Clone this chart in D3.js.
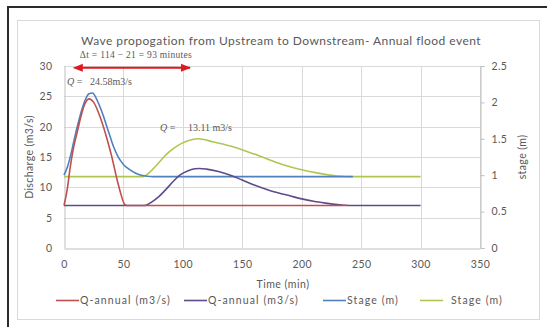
<!DOCTYPE html>
<html>
<head>
<meta charset="utf-8">
<script src="https://cdn.jsdelivr.net/npm/d3@7"></script>
<style>
  html, body { margin: 0; padding: 0; background: #fff; }
  svg { display: block; }
  text { font-family: Lato, "Open Sans", sans-serif; fill: #595959; }
</style>
</head>
<body>
<svg id="chart" width="547" height="327"></svg>
<script>
// Upstream discharge (m3/s) against time (min)
const qUpT = [0, 3, 5, 8, 11, 14, 17, 21, 25, 30, 35, 40, 45, 48, 51, 53, 238];
const qUpV = [7, 10, 13, 16.5, 19, 21.5, 23.5, 24.58, 24.0, 21.8, 18.8, 15.2, 11.0, 8.8, 7.2, 7, 7];

// Downstream discharge (m3/s)
const qDnT = [0, 68, 74, 80, 86, 92, 98, 104, 110, 114, 120, 130, 140, 150, 160, 170, 180, 190, 200, 210, 220, 230, 240, 300];
const qDnV = [7, 7, 7.6, 8.5, 9.7, 11.0, 12.1, 12.7, 13.05, 13.11, 13.0, 12.6, 12.0, 11.2, 10.4, 9.7, 9.1, 8.6, 8.1, 7.7, 7.4, 7.15, 7.0, 7.0];

// Upstream stage (m)
const stUpT = [0, 3, 6, 9, 12, 15, 18, 21, 24, 27, 30, 33, 36, 39, 42, 45, 48, 51, 55, 60, 65, 70, 75, 243];
const stUpV = [1.0, 1.12, 1.3, 1.52, 1.72, 1.9, 2.04, 2.12, 2.13, 2.06, 1.95, 1.82, 1.67, 1.52, 1.38, 1.27, 1.19, 1.13, 1.08, 1.03, 1.0, 0.985, 0.98, 0.98];

// Downstream stage (m)
const stDnT = [0, 66, 72, 78, 84, 90, 96, 102, 108, 113, 125, 140, 155, 170, 185, 200, 215, 230, 245, 300];
const stDnV = [0.98, 0.98, 1.04, 1.14, 1.25, 1.34, 1.41, 1.46, 1.49, 1.5, 1.46, 1.40, 1.32, 1.23, 1.14, 1.075, 1.025, 0.99, 0.98, 0.98];

const xTicks = [0, 50, 100, 150, 200, 250, 300, 350];
const yLeftTicks = [0, 5, 10, 15, 20, 25, 30];
const yRightTicks = [0, 0.5, 1, 1.5, 2, 2.5];

const seriesNames = ["Q-annual (m3/s)", "Q-annual (m3/s)", "Stage (m)", "Stage (m)"];
const seriesColors = ["#c0504d", "#5f4b8b", "#4f81bd", "#afc653"];

// Travel time annotation: peaks at 21 and 114 min
const peakUpT = 21, peakDnT = 114;
const arrowT = [15, 106];
const arrowQ = 29.7;

const svg = d3.select("#chart");

// outer frame
svg.append("line").attr("x1", 8).attr("x2", 547).attr("y1", 7).attr("y2", 7)
  .attr("stroke", "#2b2b2b").attr("stroke-width", 2);
svg.append("line").attr("x1", 8).attr("x2", 8).attr("y1", 6).attr("y2", 327)
  .attr("stroke", "#2b2b2b").attr("stroke-width", 2);
svg.append("rect").attr("x", 17.5).attr("y", 20.5).attr("width", 522).attr("height", 299)
  .attr("fill", "#fff").attr("stroke", "#d9d9d9");

const x = d3.scaleLinear().domain([0, 350]).range([64, 480]);
const yL = d3.scaleLinear().domain([0, 30]).range([248, 66]);
const yR = d3.scaleLinear().domain([0, 2.5]).range([248, 66]);

// gridlines
const grid = svg.append("g");
grid.selectAll(".h").data(yLeftTicks.slice(1)).join("line")
  .attr("x1", x(0)).attr("x2", x(350))
  .attr("y1", d => Math.round(yL(d)) + 0.5).attr("y2", d => Math.round(yL(d)) + 0.5)
  .attr("stroke", "#d9d9d9");
grid.selectAll(".v").data(xTicks.slice(1)).join("line")
  .attr("y1", yL(0)).attr("y2", yL(30))
  .attr("x1", d => Math.round(x(d)) + 0.5).attr("x2", d => Math.round(x(d)) + 0.5)
  .attr("stroke", "#d9d9d9");

// axes
const axL = svg.append("g").attr("transform", `translate(${Math.round(x(0)) + 0.5},0)`)
  .call(d3.axisLeft(yL).tickValues(yLeftTicks).tickSize(0).tickPadding(12));
const axB = svg.append("g").attr("transform", `translate(0,${Math.round(yL(0)) + 0.5})`)
  .call(d3.axisBottom(x).tickValues(xTicks).tickSize(0).tickPadding(12));
const axR = svg.append("g").attr("transform", `translate(${Math.round(x(350)) + 0.5},0)`)
  .call(d3.axisRight(yR).tickValues(yRightTicks).tickSize(4).tickPadding(7).tickFormat(d3.format("")));
[axL, axB, axR].forEach(a => {
  a.select(".domain").attr("stroke", "#bfbfbf");
  a.selectAll(".tick line").attr("stroke", "#bfbfbf");
  a.selectAll("text").style("font-size", "10.5px").attr("fill", "#595959")
    .style("font-family", "Lato, sans-serif").style("letter-spacing", "0.4px");
});

// series
const pair = (ts, vs) => ts.map((t, i) => [t, vs[i]]);
const lineL = d3.line().x(d => x(d[0])).y(d => yL(d[1])).curve(d3.curveMonotoneX);
const lineR = d3.line().x(d => x(d[0])).y(d => yR(d[1])).curve(d3.curveMonotoneX);

const plot = svg.append("g").attr("fill", "none").attr("stroke-width", 1.6).attr("stroke-linejoin", "round");
plot.append("path").attr("d", lineR(pair(stDnT, stDnV))).attr("stroke", seriesColors[3]);
plot.append("path").attr("d", lineR(pair(stUpT, stUpV))).attr("stroke", seriesColors[2]);
plot.append("path").attr("d", lineL(pair(qDnT, qDnV))).attr("stroke", seriesColors[1]);
plot.append("path").attr("d", lineL(pair(qUpT, qUpV))).attr("stroke", seriesColors[0]);

// title
svg.append("text").attr("x", 281).attr("y", 45).attr("text-anchor", "middle")
  .style("font-size", "12px").style("letter-spacing", "0.45px")
  .text("Wave propogation from Upstream to Downstream- Annual flood event");

// axis titles
svg.append("text").attr("transform", `translate(33,${(yL(0) + yL(30)) / 2}) rotate(-90)`)
  .attr("text-anchor", "middle").style("font-size", "10.5px").style("letter-spacing", "0.4px")
  .text("Discharge (m3/s)");
svg.append("text").attr("transform", `translate(526,${(yL(0) + yL(30)) / 2}) rotate(-90)`)
  .attr("text-anchor", "middle").style("font-size", "10.5px").style("letter-spacing", "0.4px")
  .text("stage (m)");
svg.append("text").attr("x", 283).attr("y", 288).attr("text-anchor", "middle")
  .style("font-size", "10.5px").style("letter-spacing", "0.5px").text("Time (min)");

// travel-time arrow
const defs = svg.append("defs");
["start", "end"].forEach(k => {
  defs.append("marker").attr("id", "ah-" + k).attr("viewBox", "0 0 10 10")
    .attr("refX", k === "end" ? 9 : 1).attr("refY", 5)
    .attr("markerWidth", 5).attr("markerHeight", 5).attr("orient", "auto-start-reverse")
    .append("path").attr("d", "M0,1 L10,5 L0,9 Z").attr("fill", "#e0191f");
});
svg.append("line").attr("x1", x(arrowT[0])).attr("x2", x(arrowT[1]))
  .attr("y1", yL(arrowQ)).attr("y2", yL(arrowQ))
  .attr("stroke", "#e0191f").attr("stroke-width", 2)
  .attr("marker-start", "url(#ah-start)").attr("marker-end", "url(#ah-end)");

const serif = "'Liberation Serif', 'DejaVu Serif', serif";
svg.append("text").attr("x", x(arrowT[0]) - 2).attr("y", 58)
  .style("font-family", serif).style("font-size", "9.5px").attr("fill", "#333")
  .style("letter-spacing", "0.3px")
  .text(`Δt = ${peakDnT} − ${peakUpT} = ${peakDnT - peakUpT} minutes`);

const qUpPeak = d3.max(qUpV), qDnPeak = d3.max(qDnV);
const lab1 = svg.append("text").attr("x", 67).attr("y", 85)
  .style("font-family", serif).style("font-size", "10px").attr("fill", "#333");
lab1.append("tspan").style("font-style", "italic").text("Q");
lab1.append("tspan").text(" = ");
lab1.append("tspan").attr("dx", 5).text(`${qUpPeak.toFixed(2)}m3/s`);
const lab2 = svg.append("text").attr("x", 160).attr("y", 131)
  .style("font-family", serif).style("font-size", "10px").attr("fill", "#333");
lab2.append("tspan").style("font-style", "italic").text("Q");
lab2.append("tspan").text(" = ");
lab2.append("tspan").attr("dx", 10).text(`${qDnPeak.toFixed(2)} m3/s`);

// legend
const legLine = [56, 184, 323, 420];
const legText = [80, 208, 347, 451];
const leg = svg.append("g");
seriesNames.forEach((name, i) => {
  leg.append("line").attr("x1", legLine[i]).attr("x2", legLine[i] + 23).attr("y1", 300.5).attr("y2", 300.5)
    .attr("stroke", seriesColors[i]).attr("stroke-width", 1.6);
  leg.append("text").attr("x", legText[i]).attr("y", 304).style("font-size", "10.5px")
    .style("letter-spacing", "1.1px").text(name);
});
</script>
</body>
</html>
